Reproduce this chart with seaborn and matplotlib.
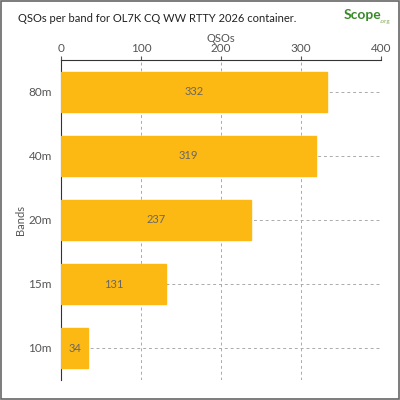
import matplotlib
matplotlib.use("Agg")
import matplotlib.pyplot as plt
import seaborn as sns
import pandas as pd
from matplotlib.patches import Rectangle

bands = ["80m", "40m", "20m", "15m", "10m"]
qsos = [332, 319, 237, 131, 34]
xticks = [0, 100, 200, 300, 400]

sns.set_style("white")
plt.rcParams['font.family'] = ['Lato', 'DejaVu Sans']
df = pd.DataFrame({"Bands": bands, "QSOs": qsos})

fig = plt.figure(figsize=(4, 4), dpi=100)
ax = fig.add_axes([0.1525, 0.05, 0.8, 0.8])
sns.barplot(data=df, x="QSOs", y="Bands", color="#FDB913", saturation=1, width=0.61, ax=ax, zorder=3)
for p in ax.patches:
    p.set_edgecolor("#FDB913")
ax.set_xlim(0, 400)
ax.set_xticks(xticks)
ax.xaxis.tick_top()
ax.xaxis.set_label_position("top")
ax.tick_params(axis="both", labelsize=8.5, colors="#555555", length=3, width=0.8, direction="out")
ax.tick_params(axis="x", pad=1)
ax.set_xlabel("QSOs", fontsize=8, color="#555555", labelpad=1)
ax.set_ylabel("Bands", fontsize=8, color="#555555", labelpad=2)
ax.grid(True, linestyle=(0, (3, 3)), color="#aaaaaa", linewidth=0.7, zorder=0)
for s in ["right", "bottom"]:
    ax.spines[s].set_visible(False)
for s in ["top", "left"]:
    ax.spines[s].set_color("#333333")
    ax.spines[s].set_linewidth(0.8)
for i, v in enumerate(qsos):
    ax.text(v / 2, i, str(v), ha="center", va="center", fontsize=8, color="#666666", zorder=4)

fig.text(0.045, 0.955, "QSOs per band for OL7K CQ WW RTTY 2026 container.", fontsize=8, color="#222222", va="center")
fig.text(0.86, 0.962, "Scope", fontsize=10, color="#3a8a2a", fontweight="bold", va="center")
fig.text(0.948, 0.945, ".org", fontsize=4.5, color="#88aa55", va="center")
fig.patches.append(Rectangle((0.002, 0.002), 0.996, 0.996, transform=fig.transFigure, fill=False, edgecolor="#666666", linewidth=1.2))
fig.savefig("out.png", dpi=100)
